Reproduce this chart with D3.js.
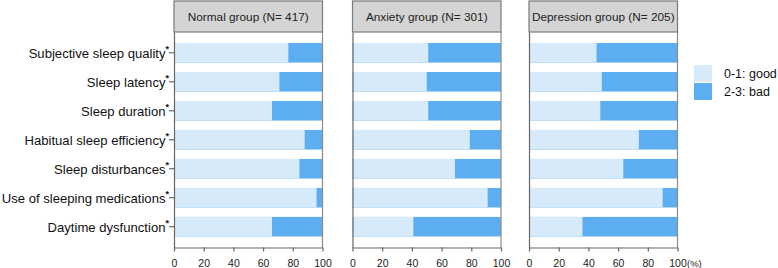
<!DOCTYPE html>
<html>
<head>
<meta charset="utf-8">
<script src="https://cdn.jsdelivr.net/npm/d3@7"></script>
<style>
  body { margin: 0; background: #fff; }
  text { font-family: "Liberation Sans", Arial, sans-serif; }
</style>
</head>
<body>
<div id="chart"></div>
<script>
// categories (top to bottom)
const categories = [
  "Subjective sleep quality",
  "Sleep latency",
  "Sleep duration",
  "Habitual sleep efficiency",
  "Sleep disturbances",
  "Use of sleeping medications",
  "Daytime dysfunction"
]
const groups = ["Normal group (N= 417)", "Anxiety group (N= 301)", "Depression group (N= 205)"]
// % with score 0-1 (good); the rest is 2-3 (bad)
const normalGood     = [77, 71, 66, 88, 84.5, 96, 66]
const anxietyGood    = [51, 50, 51, 79, 69, 91, 41]
const depressionGood = [45.5, 49, 48, 74, 63.5, 90, 36]
const goodByGroup = [normalGood, anxietyGood, depressionGood]
const legendLabels = ["0-1: good", "2-3: bad"]
const xTicks = [0, 20, 40, 60, 80, 100]

const W = 778, H = 268
const colGood = "#d6eafa", colBad = "#5caef1"

let svg = d3.select("#chart").append("svg")
    .attr("width", W).attr("height", H)

// layout
const panelX = [174, 352.5, 529]
const panelW = 148.5
const headTop = 1, plotTop = 32, plotBottom = 247.5

let y = d3.scaleBand()
    .domain(categories)
    .range([plotTop, plotBottom])
    .paddingInner(0.325)
    .paddingOuter(0.38)

groups.forEach((g, gi) => {
    let x0 = panelX[gi]
    let x = d3.scaleLinear().domain([0, 100]).range([x0, x0 + panelW])
    let panel = svg.append("g")

    let rows = categories.map((c, i) => ({ cat: c, good: goodByGroup[gi][i] }))

    // bad (full bar) then good on top
    panel.selectAll(".bad").data(rows).enter().append("rect")
        .attr("x", x(0)).attr("width", x(100) - x(0))
        .attr("y", d => y(d.cat)).attr("height", y.bandwidth())
        .attr("fill", colBad)
    panel.selectAll(".good").data(rows).enter().append("rect")
        .attr("x", x(0)).attr("width", d => x(d.good) - x(0))
        .attr("y", d => y(d.cat)).attr("height", y.bandwidth())
        .attr("fill", colGood)

    // header strip
    panel.append("rect")
        .attr("x", x0).attr("y", headTop)
        .attr("width", panelW).attr("height", plotTop - headTop)
        .attr("fill", "#d4d4d4").attr("stroke", "#7a7a7a").attr("stroke-width", 1.2)
    panel.append("text")
        .attr("x", x0 + panelW / 2).attr("y", (headTop + plotTop) / 2 + 4)
        .attr("text-anchor", "middle")
        .attr("font-size", 11.8).attr("fill", "#222")
        .text(g)

    // right border
    panel.append("line")
        .attr("x1", x0 + panelW).attr("x2", x0 + panelW)
        .attr("y1", plotTop).attr("y2", plotBottom)
        .attr("stroke", "#8a8a8a").attr("stroke-width", 1.2)

    // bottom axis
    let xa = panel.append("g")
        .attr("transform", "translate(0," + plotBottom + ")")
        .call(d3.axisBottom(x).tickValues(xTicks).tickSize(4).tickSizeOuter(0))
    xa.select(".domain").attr("stroke", "#666").attr("stroke-width", 1.2)
    xa.selectAll(".tick line").attr("stroke", "#666").attr("stroke-width", 1.2)
    xa.selectAll(".tick text")
        .attr("font-size", 10.5).attr("fill", "#222")
        .attr("font-family", "Liberation Sans, Arial, sans-serif")
        .attr("y", 12)

    // left axis
    let ya = panel.append("g")
        .attr("transform", "translate(" + x0 + ",0)")
        .call(d3.axisLeft(y).tickSize(gi === 0 ? 5 : 0).tickSizeOuter(0).tickFormat(""))
    ya.select(".domain").attr("stroke", "#666").attr("stroke-width", 1.2)
    ya.selectAll(".tick line").attr("stroke", "#666").attr("stroke-width", 1.2)

    if (gi === 2) {
        panel.append("text")
            .attr("x", x(100) + 9.5).attr("y", plotBottom + 19.5)
            .attr("font-size", 9.5).attr("fill", "#222")
            .text("(%)")
    }
})

// category labels with superscript asterisk
let labels = svg.append("g")
categories.forEach((c) => {
    let t = labels.append("text")
        .attr("x", 169).attr("y", y(c) + y.bandwidth() / 2 + 5)
        .attr("text-anchor", "end")
        .attr("font-size", 13.1).attr("fill", "#111")
    t.append("tspan").text(c)
    t.append("tspan").attr("dy", -6).attr("font-size", 9).attr("font-weight", "bold").text("*")
})

// legend
let legend = svg.append("g").attr("transform", "translate(694,65)")
legendLabels.forEach((l, i) => {
    legend.append("rect")
        .attr("x", 0).attr("y", i * 18)
        .attr("width", 18).attr("height", 17)
        .attr("fill", i === 0 ? colGood : colBad)
    legend.append("text")
        .attr("x", 30).attr("y", i * 18 + 13)
        .attr("font-size", 12.5).attr("fill", "#111")
        .text(l)
})
</script>
</body>
</html>
